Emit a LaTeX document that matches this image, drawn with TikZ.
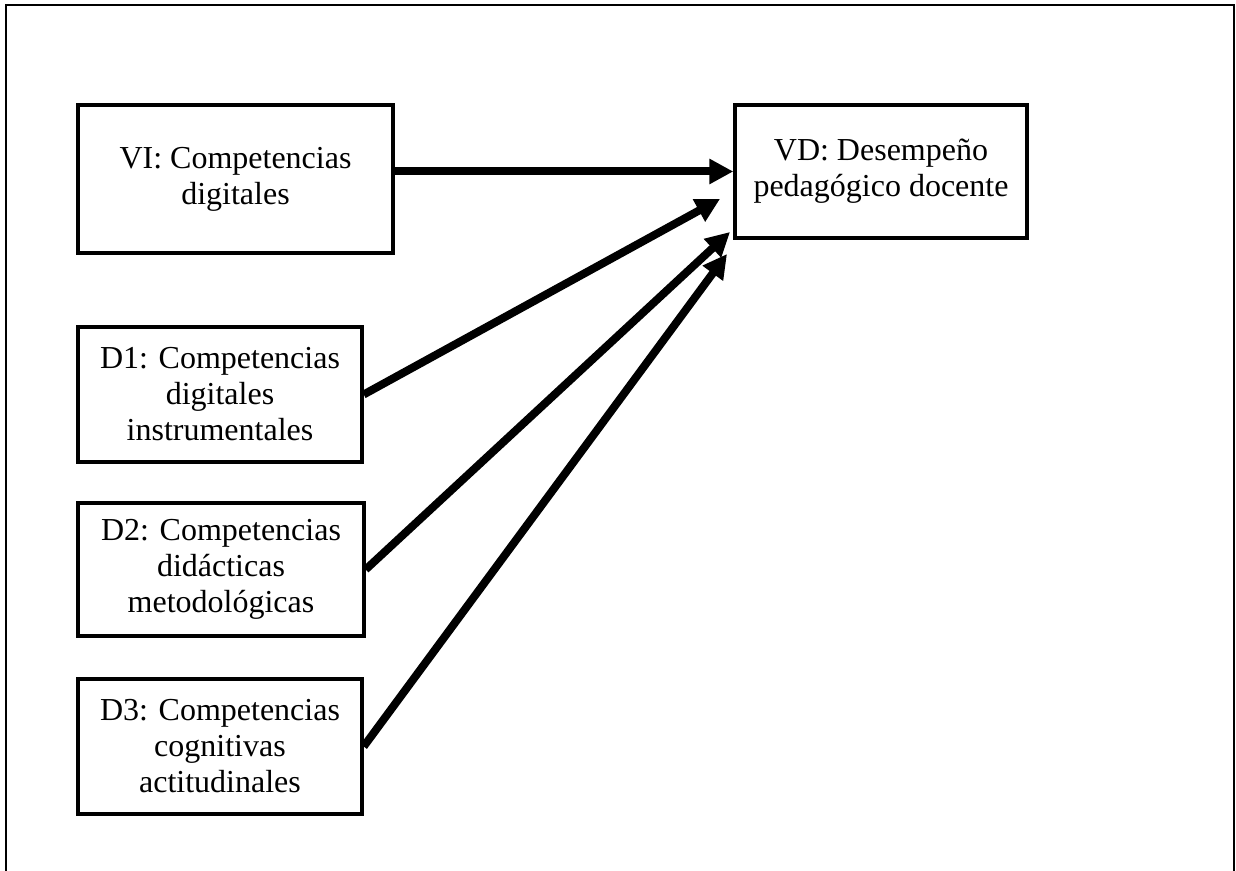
\documentclass[tikz,border=0pt]{standalone}
\usepackage{fontspec}
\setmainfont{Liberation Serif}
\usetikzlibrary{arrows.meta}
\begin{document}
\begin{tikzpicture}[x=0.5pt,y=-0.5pt,
  box/.style={draw=black, line width=1.7pt, rectangle, align=center, inner sep=0pt,
    font=\fontsize{16}{18}\selectfont},
  conn/.style={line width=4pt, -{Triangle[length=12pt,width=12pt]}},
  frame/.style={draw=black, line width=1.3pt}]
\useasboundingbox (0,0) rectangle (1236,871);
\draw[frame] (6,890) -- (6,5) -- (1234,5) -- (1234,890);
\node[box, minimum width=157.5pt, minimum height=74pt] (VI) at (235.5,179) {VI: Competencias\\digitales};
\node[box, minimum width=146pt, minimum height=66.5pt] (VD) at (881,171.5) {VD: Desempeño\\pedagógico docente};
\node[box, minimum width=142pt, minimum height=67.5pt] (D1) at (220,394.5) {D1: Competencias\\digitales\\instrumentales};
\node[box, minimum width=143pt, minimum height=66.5pt] (D2) at (221,569.5) {D2: Competencias\\didácticas\\metodológicas};
\node[box, minimum width=142pt, minimum height=67.5pt] (D3) at (220,746.5) {D3: Competencias\\cognitivas\\actitudinales};
\coordinate (t1) at (720,199);
\coordinate (t2) at (730,232);
\coordinate (t3) at (727,254);
\draw[conn] (VI.east |- VD.west) -- (VD.west);
\draw[conn] (D1.east) -- (t1);
\draw[conn] (D2.east) -- (t2);
\draw[conn] (D3.east) -- (t3);
\end{tikzpicture}
\end{document}
